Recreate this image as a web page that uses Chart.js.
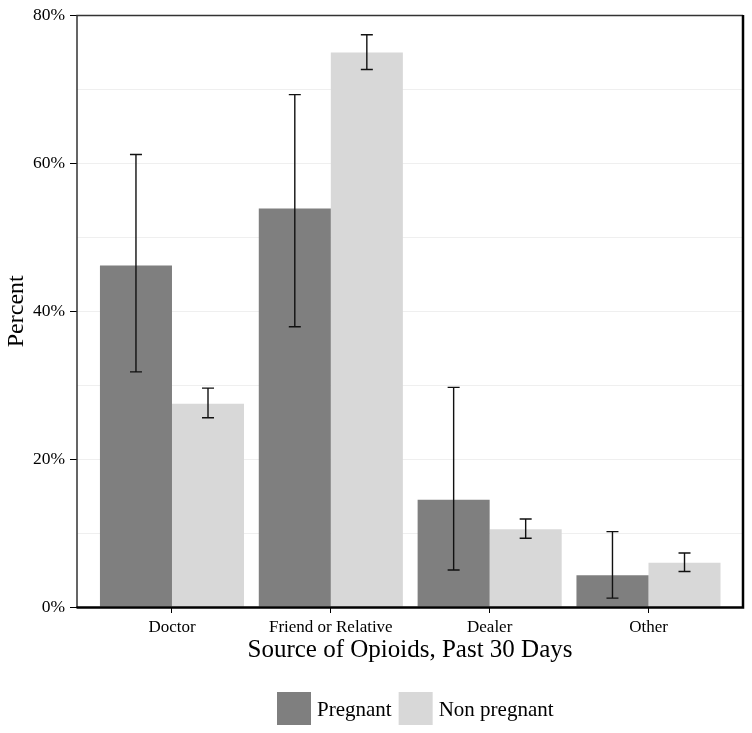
<!DOCTYPE html>
<html>
<head>
<meta charset="utf-8">
<script src="https://cdn.jsdelivr.net/npm/chart.js@4.4.1/dist/chart.umd.min.js"></script>
<style>
  html, body { margin: 0; padding: 0; background: #fff; }
  #wrap { width: 752px; height: 733px; }
</style>
</head>
<body>
<div id="wrap"><canvas id="c" width="752" height="733"></canvas></div>
<script>
const categories = ['Doctor', 'Friend or Relative', 'Dealer', 'Other'];
const seriesNames = ['Pregnant', 'Non pregnant'];
const pregnant = [46.2, 53.9, 14.5, 4.3];
const pregnantLow = [31.8, 37.9, 5.0, 1.2];
const pregnantHigh = [61.2, 69.3, 29.7, 10.2];
const nonPregnant = [27.5, 75.0, 10.5, 6.0];
const nonPregnantLow = [25.6, 72.7, 9.3, 4.8];
const nonPregnantHigh = [29.6, 77.4, 11.9, 7.3];
const yTickValues = [0, 20, 40, 60, 80];
const xTitle = 'Source of Opioids, Past 30 Days';
const yTitle = 'Percent';

const FONT = '"Liberation Serif", "Times New Roman", serif';
const colors = ['#7f7f7f', '#d8d8d8'];
const lows = [pregnantLow, nonPregnantLow];
const highs = [pregnantHigh, nonPregnantHigh];

const errorBars = {
  id: 'errorBars',
  afterDatasetsDraw(chart) {
    const ctx = chart.ctx;
    const y = chart.scales.y;
    ctx.save();
    ctx.strokeStyle = '#111';
    ctx.lineWidth = 1.4;
    chart.data.datasets.forEach((ds, di) => {
      const meta = chart.getDatasetMeta(di);
      meta.data.forEach((bar, j) => {
        const x = bar.x;
        const yl = y.getPixelForValue(lows[di][j]);
        const yh = y.getPixelForValue(highs[di][j]);
        ctx.beginPath();
        ctx.moveTo(x, yl); ctx.lineTo(x, yh);
        ctx.moveTo(x - 6, yl); ctx.lineTo(x + 6, yl);
        ctx.moveTo(x - 6, yh); ctx.lineTo(x + 6, yh);
        ctx.stroke();
      });
    });
    ctx.restore();
  },
  afterDraw(chart) {
    const ctx = chart.ctx;
    const a = chart.chartArea;
    ctx.save();
    // frame
    ctx.strokeStyle = '#333';
    ctx.lineWidth = 1.5;
    ctx.beginPath();
    ctx.moveTo(a.left, a.bottom); ctx.lineTo(a.left, a.top); ctx.lineTo(a.right, a.top);
    ctx.stroke();
    ctx.strokeStyle = '#000';
    ctx.lineWidth = 2.5;
    ctx.beginPath();
    ctx.moveTo(a.left - 0.5, a.bottom + 0.5); ctx.lineTo(a.right, a.bottom + 0.5); ctx.lineTo(a.right, a.top - 0.5);
    ctx.stroke();
    // x title
    ctx.fillStyle = '#000';
    ctx.font = '25px ' + FONT;
    ctx.textAlign = 'center';
    ctx.textBaseline = 'alphabetic';
    ctx.fillText(xTitle, (a.left + a.right) / 2, 657);
    // legend
    ctx.font = '21px ' + FONT;
    ctx.textAlign = 'left';
    let lx = 277;
    chart.data.datasets.forEach((ds, di) => {
      ctx.fillStyle = ds.backgroundColor;
      ctx.fillRect(lx, 692, 34, 33);
      ctx.fillStyle = '#000';
      ctx.fillText(ds.label, lx + 40, 716);
      lx += 40 + ctx.measureText(ds.label).width + 7;
    });
    ctx.restore();
  }
};

const datasets = [pregnant, nonPregnant].map((vals, di) => ({
  label: seriesNames[di],
  data: vals.map((v, i) => ({ x: i + 1, y: v })),
  backgroundColor: colors[di],
  borderWidth: 0,
  categoryPercentage: 0.907,
  barPercentage: 1.0
}));

new Chart(document.getElementById('c'), {
  type: 'bar',
  data: { datasets },
  plugins: [errorBars],
  options: {
    responsive: false,
    animation: false,
    layout: { padding: { top: 13, right: 9, left: 0, bottom: 0 } },
    plugins: { legend: { display: false }, tooltip: { enabled: false } },
    scales: {
      x: {
        type: 'linear',
        offset: false,
        min: 0.402,
        max: 4.595,
        afterBuildTicks(scale) { scale.ticks = categories.map((c, i) => ({ value: i + 1 })); },
        afterFit(scale) { scale.height = 126; },
        ticks: {
          callback: (v) => categories[v - 1] || '',
          color: '#000',
          font: { family: FONT, size: 17 },
          padding: 4,
          maxRotation: 0,
          autoSkip: false
        },
        grid: { display: true, offset: false, drawOnChartArea: false, drawTicks: true, tickLength: 6, tickColor: '#000', tickWidth: 1 },
        border: { display: false }
      },
      y: {
        min: 0,
        max: 80,
        afterFit(scale) { scale.width = 77; },
        ticks: {
          stepSize: 10,
          callback: (v) => (yTickValues.includes(v) ? v + '%' : ''),
          color: '#000',
          font: { family: FONT, size: 17.5 },
          padding: 5,
          autoSkip: false
        },
        grid: {
          color: (c) => (c.tick && c.tick.value > 0 && c.tick.value < 80 ? '#efefef' : 'rgba(0,0,0,0)'),
          tickColor: (c) => (c.tick && yTickValues.includes(c.tick.value) ? '#000' : 'rgba(0,0,0,0)'),
          tickLength: 7,
          lineWidth: 1
        },
        border: { display: false },
        title: {
          display: true,
          text: yTitle,
          color: '#000',
          font: { family: FONT, size: 24 },
          padding: { top: 2, bottom: 0 }
        }
      }
    }
  }
});
</script>
</body>
</html>
